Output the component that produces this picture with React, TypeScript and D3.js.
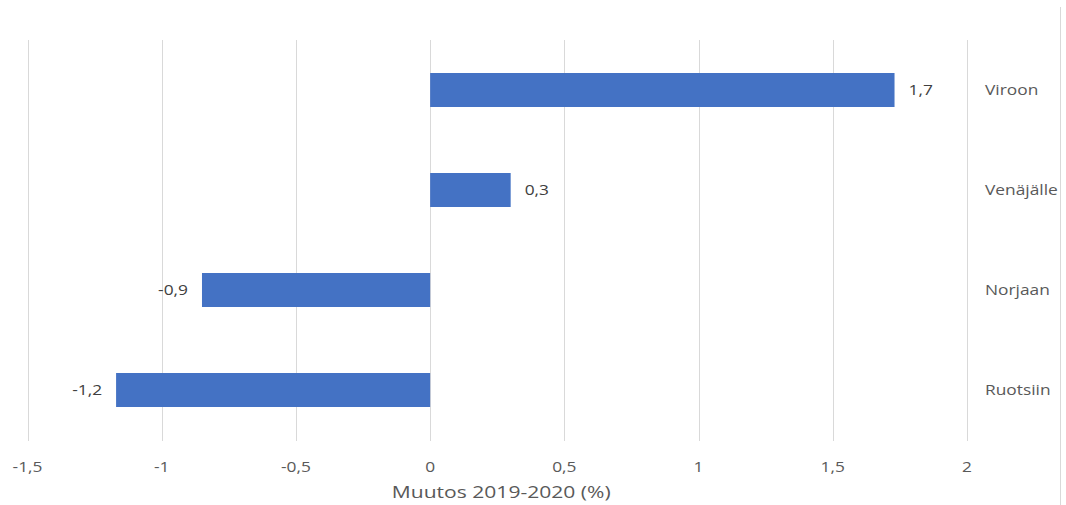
import React from "react";
import * as d3 from "d3";

const categories = ["Viroon", "Venäjälle", "Norjaan", "Ruotsiin"];
const values = [1.73, 0.3, -0.85, -1.17];
const valueLabels = ["1,7", "0,3", "-0,9", "-1,2"];
const tickValues = [-1.5, -1, -0.5, 0, 0.5, 1, 1.5, 2];
const axisTitle = "Muutos 2019-2020 (%)";

const W = 1066;
const H = 505;
const FONT = "'Open Sans', 'Noto Sans', sans-serif";
const TEXT = "#595959";
const SX = 1.24;

function T({ x, y, anchor = "start", size = 14, fill = TEXT, children }: any) {
  return (
    <text
      transform={`translate(${x},${y}) scale(${SX},1)`}
      dy="0.35em"
      textAnchor={anchor}
      fontFamily={FONT}
      fontSize={size}
      fill={fill}
    >
      {children}
    </text>
  );
}

export default function App() {
  const x = d3.scaleLinear().domain([-1.5, 2]).range([27.5, 967]);
  const y = d3.scaleBand().domain(categories).range([40, 440]).paddingInner(0.66).paddingOuter(0.33);
  const fmt = (v: number) => String(v).replace(".", ",");
  return (
    <svg width={W} height={H} style={{ position: "absolute", left: 0, top: 0, background: "#fff" }}>
      <rect x={0} y={0} width={W} height={H} fill="#fff" />
      <line x1={1060.5} x2={1060.5} y1={7} y2={H} stroke="#d9d9d9" strokeWidth={1} />
      {tickValues.map((t) => (
        <line key={"g" + t} x1={Math.round(x(t)) + 0.5} x2={Math.round(x(t)) + 0.5} y1={40} y2={441} stroke="#d9d9d9" strokeWidth={1} />
      ))}
      {categories.map((c, i) => {
        const v = values[i];
        const x0 = x(Math.min(0, v));
        const x1 = x(Math.max(0, v));
        const yc = (y(c) as number) + y.bandwidth() / 2;
        return (
          <g key={c}>
            <rect x={x0} y={y(c)} width={x1 - x0} height={y.bandwidth()} fill="#4472C4" />
            <T x={v >= 0 ? x1 + 14 : x0 - 14} y={yc} anchor={v >= 0 ? "start" : "end"} fill="#404040">
              {valueLabels[i]}
            </T>
            <T x={985} y={yc}>{c}</T>
          </g>
        );
      })}
      {tickValues.map((t) => (
        <T key={"t" + t} x={x(t)} y={467} anchor="middle">
          {fmt(t)}
        </T>
      ))}
      <T x={(x(-1.5) + x(2)) / 2 + 4} y={492} anchor="middle" size={17}>
        {axisTitle}
      </T>
    </svg>
  );
}
